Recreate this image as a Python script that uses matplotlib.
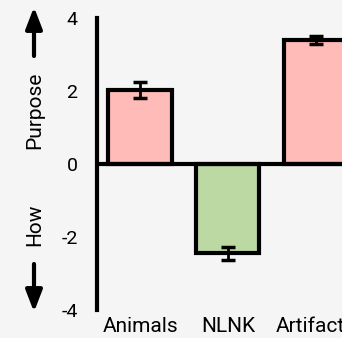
import matplotlib
matplotlib.use("Agg")
import matplotlib.pyplot as plt
from matplotlib.patches import FancyArrowPatch

categories = ["Animals", "NLNK", "Artifacts"]
values = [2.02, -2.45, 3.4]
errors = [0.22, 0.18, 0.1]
colors = ["#ffbbb8", "#bcd9a4", "#ffbbb8"]
yticks = [-4, -2, 0, 2, 4]

plt.rcParams['font.family'] = ['Roboto', 'DejaVu Sans']
bg = "#f5f5f5"
fig = plt.figure(figsize=(3.42, 3.38), dpi=100, facecolor=bg)
ax = fig.add_axes([97/342, 28/338, 245/342, 292/338])
ax.set_facecolor(bg)
x = list(range(len(categories)))
ax.bar(x, values, width=0.72, color=colors, edgecolor="black", linewidth=3, zorder=2)
ax.errorbar(x, values, yerr=errors, fmt="none", ecolor="black", elinewidth=2,
            capsize=5, capthick=2.5, zorder=3)
ax.axhline(0, color="black", linewidth=3, zorder=4)
ax.set_xlim(-0.49, 2.3)
ax.set_ylim(-4, 4)
ax.set_yticks(yticks)
ax.set_yticklabels([str(t) for t in yticks])
ax.set_xticks(x)
ax.set_xticklabels(categories)
ax.tick_params(axis="y", length=0, pad=14, labelsize=14)
ax.tick_params(axis="x", length=0, pad=5, labelsize=15)
for s in ["top", "right", "bottom"]:
    ax.spines[s].set_visible(False)
ax.spines["left"].set_linewidth(3)

fig.text(35/342, 1 - 110/338, "Purpose", rotation=90, ha="center", va="center", fontsize=15)
fig.text(35/342, 1 - 225/338, "How", rotation=90, ha="center", va="center", fontsize=15)
for start, end in [((34/342, 1 - 56/338), (34/342, 1 - 7/338)),
                   ((34/342, 1 - 264/338), (34/342, 1 - 312/338))]:
    fig.add_artist(FancyArrowPatch(start, end, transform=fig.transFigure,
                                   arrowstyle="-|>,head_width=5,head_length=13",
                                   color="black", lw=3, mutation_scale=1,
                                   shrinkA=0, shrinkB=0))
fig.savefig("out.png", dpi=100, facecolor=bg)
